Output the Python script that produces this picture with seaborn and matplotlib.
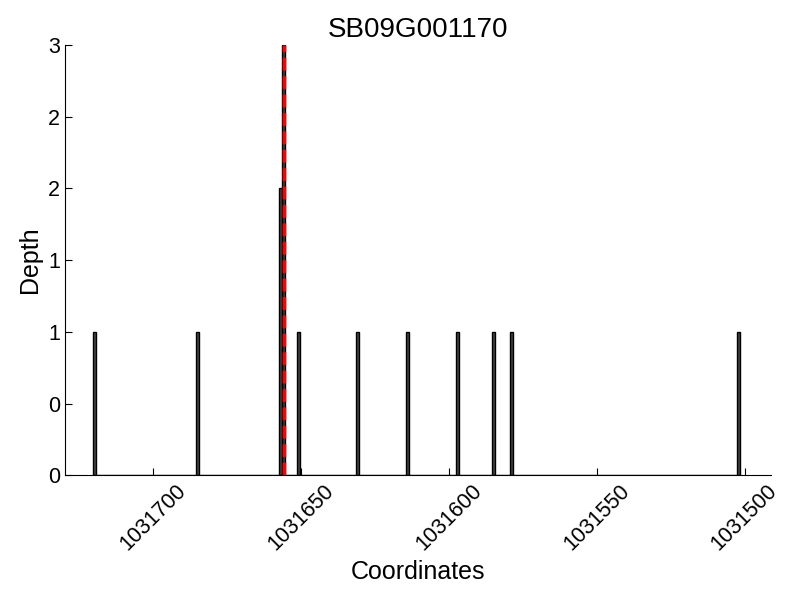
import matplotlib
matplotlib.use("Agg")
import matplotlib.pyplot as plt
import seaborn as sns
import pandas as pd
from matplotlib.ticker import FormatStrFormatter

# read depth per coordinate off the picture
coords = [1031720, 1031685, 1031657, 1031656, 1031651, 1031631,
          1031614, 1031597, 1031585, 1031579, 1031502]
depth = [1, 1, 2, 3, 1, 1, 1, 1, 1, 1, 1]
gene_name = "SB09G001170"
marker_pos = 1031656
x_range = (1031730, 1031491)

df = pd.DataFrame({"pos": coords, "depth": depth})

sns.set_style("ticks")
plt.rcParams["font.family"] = ["Liberation Sans", "DejaVu Sans"]
plt.rcParams["text.color"] = "black"
plt.rcParams["axes.labelcolor"] = "black"
plt.rcParams["xtick.color"] = "black"
plt.rcParams["ytick.color"] = "black"
plt.rcParams["axes.edgecolor"] = "black"

fig = plt.figure(figsize=(8, 6), dpi=100)
ax = fig.add_axes([0.081, 0.208, 0.883, 0.717])

sns.histplot(data=df, x="pos", weights="depth", discrete=True, ax=ax,
             color="#444444", edgecolor="black", linewidth=1, alpha=1)
ax.vlines(marker_pos, 0, max(depth), colors="red", linestyles="--", linewidth=2.5)

ax.set_xlim(*x_range)
ax.set_ylim(0, 3)
ax.set_yticks([0, 0.5, 1, 1.5, 2, 2.5, 3])
ax.yaxis.set_major_formatter(FormatStrFormatter("%d"))
ax.set_xticks([1031700, 1031650, 1031600, 1031550, 1031500])
ax.ticklabel_format(axis="x", useOffset=False, style="plain")
ax.tick_params(direction="in", labelsize=15.5, length=5)
plt.setp(ax.get_xticklabels(), rotation=45)
sns.despine(ax=ax)

ax.set_title(gene_name, fontsize=20)
ax.set_xlabel("Coordinates", fontsize=18)
ax.set_ylabel("Depth", fontsize=18)

fig.savefig("out.png", dpi=100)
